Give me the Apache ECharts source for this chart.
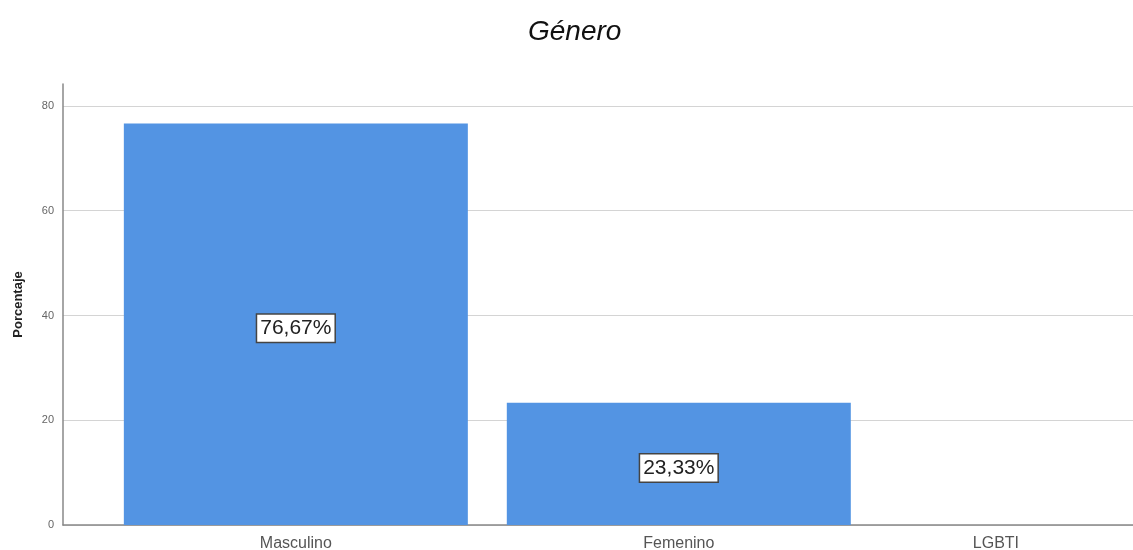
<!DOCTYPE html>
<html><head><meta charset="utf-8">
<script src="https://cdn.jsdelivr.net/npm/echarts@6/dist/echarts.min.js"></script>
<style>html,body{margin:0;padding:0;background:#fff}#c{width:1133px;height:550px}</style>
</head><body><div id="c"></div>
<script>
var categories = ['Masculino', 'Femenino', 'LGBTI'];
var values = [76.67, 23.33, 0];
var yTicks = [0, 20, 40, 60, 80];
var title = 'Género';
var yName = 'Porcentaje';

var chart = echarts.init(document.getElementById('c'));
var data = categories.map(function (c, i) {
  return { value: [i, values[i]], label: { show: values[i] > 0 } };
});
chart.setOption({
  animation: false,
  title: { text: title, left: 523, top: 13,
    textStyle: { fontFamily: 'Liberation Sans', fontStyle: 'italic', fontWeight: 'normal', fontSize: 28, color: '#111' } },
  grid: { left: 63, right: 0, top: 84, bottom: 25, outerBoundsMode: 'none' },
  xAxis: {
    type: 'value', min: -0.608, max: 2.186,
    axisLine: { show: true, onZero: false, lineStyle: { color: '#888', width: 1.5 } },
    axisTick: { show: false },
    splitLine: { show: false },
    axisLabel: {
      customValues: [0, 1, 1.828],
      formatter: function (v) { return categories[Math.round(v)]; },
      fontFamily: 'Liberation Sans', fontSize: 16, color: '#555', margin: 11
    }
  },
  yAxis: {
    type: 'value', min: 0, max: 84.2, interval: 20,
    name: yName, nameLocation: 'middle', nameGap: 38, nameRotate: 90,
    nameTextStyle: { fontFamily: 'Liberation Sans', fontWeight: 'bold', fontSize: 13, color: '#222' },
    axisLine: { show: true, onZero: false, lineStyle: { color: '#888', width: 1.5 } },
    axisTick: { show: false },
    axisLabel: {
      showMaxLabel: false,
      formatter: function (v) { return yTicks.indexOf(v) >= 0 ? String(v) : ''; },
      fontFamily: 'Liberation Sans', fontSize: 11, color: '#666', margin: 9
    },
    splitLine: { show: true, lineStyle: { color: ['#d4d4d4','#d4d4d4','#d4d4d4','#d4d4d4','#d4d4d4','rgba(0,0,0,0)'], width: 1.2 } }
  },
  series: [{
    type: 'bar', data: data, barWidth: 344,
    itemStyle: { color: '#5394e3' },
    label: {
      position: 'inside', offset: [0, 4],
      formatter: function (p) { return p.value[1].toFixed(2).replace('.', ',') + '%'; },
      fontFamily: 'Liberation Sans', fontSize: 21, color: '#222',
      backgroundColor: '#fff', borderColor: '#444', borderWidth: 1.5, padding: [4, 3, 2, 3]
    }
  }]
});
</script></body></html>
